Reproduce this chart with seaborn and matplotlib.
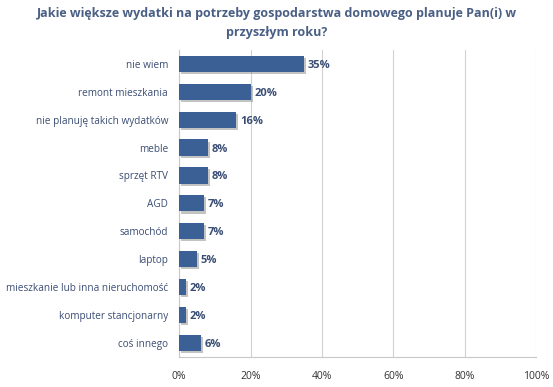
import matplotlib
matplotlib.use("Agg")
import matplotlib.pyplot as plt
import matplotlib.patheffects as pe
import seaborn as sns
import pandas as pd

categories = ["nie wiem", "remont mieszkania", "nie planuję takich wydatków", "meble",
              "sprzęt RTV", "AGD", "samochód", "laptop",
              "mieszkanie lub inna nieruchomość", "komputer stancjonarny", "coś innego"]
values = [35, 20, 16, 8, 8, 7, 7, 5, 2, 2, 6]
xticks = [0, 20, 40, 60, 80, 100]
title = "Jakie większe wydatki na potrzeby gospodarstwa domowego planuje Pan(i) w\nprzyszłym roku?"

sns.set_style("white")
plt.rcParams['font.family'] = ['Open Sans', 'DejaVu Sans']

df = pd.DataFrame({"cat": categories, "val": values})

fig = plt.figure(figsize=(5.53, 3.87), dpi=100)
ax = fig.add_axes([0.324, 0.078, 0.645, 0.793])

sns.barplot(data=df, x="val", y="cat", color="#3A6096", saturation=1, width=0.58,
            edgecolor="none", linewidth=0, ax=ax, zorder=3)
for p in ax.patches:
    p.set_path_effects([pe.SimplePatchShadow(offset=(1.5, -1.5), shadow_rgbFace="#888888",
                                             alpha=0.5), pe.Normal()])

txtcol = "#3B4E75"
for i, v in enumerate(values):
    ax.text(v + 1.0, i, f"{v}%", va="center_baseline", ha="left", fontsize=8,
            fontweight="bold", color=txtcol)

ax.set_xlim(0, 100)
ax.set_xticks(xticks)
ax.set_xticklabels([f"{t}%" for t in xticks], fontsize=7.5, color="#333333")
ax.tick_params(axis="y", labelsize=7.2, labelcolor=txtcol, length=0, pad=8)
ax.tick_params(axis="x", length=0, pad=10)
ax.set_xlabel("")
ax.set_ylabel("")
ax.grid(axis="x", color="#D0D0D0", linewidth=0.8, zorder=0)
ax.set_axisbelow(True)
for s in ["top", "right"]:
    ax.spines[s].set_visible(False)
ax.spines["bottom"].set_color("#C8C8C8")
ax.spines["left"].set_color("#C8C8C8")
ax.spines["bottom"].set_linewidth(0.8)
ax.spines["left"].set_linewidth(0.8)
# minor ticks between categories on y axis
ax.set_yticks([i + 0.5 for i in range(-1, len(categories))], minor=True)
ax.tick_params(axis="y", which="minor", length=4, color="#C8C8C8", direction="out")

fig.text(0.5, 0.94, title, ha="center", va="center", fontsize=9,
         fontweight="bold", color="#4A5F85", linespacing=1.6)

fig.savefig("out.png", dpi=100)
